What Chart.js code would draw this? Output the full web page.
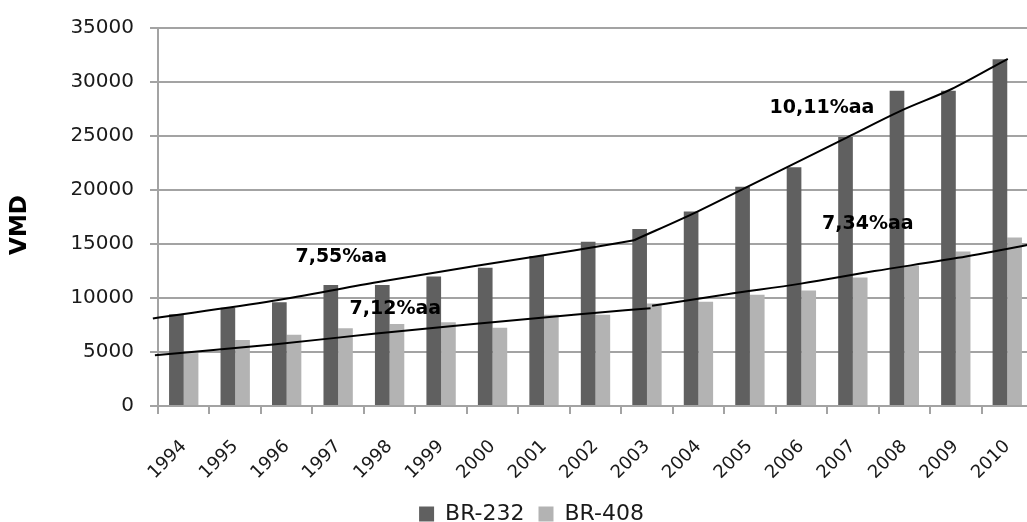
<!DOCTYPE html>
<html>
<head>
<meta charset="utf-8">
<script src="https://cdn.jsdelivr.net/npm/chart.js@4/dist/chart.umd.min.js"></script>
<style>
    html, body { margin: 0; padding: 0; background: #fff; overflow: hidden; }
    .chart-container { width: 1027px; height: 522px; overflow: hidden; position: relative; }
</style>
</head>
<body>
<div class="chart-container">
    <canvas id="vmdChart" width="1063" height="535"></canvas>
</div>
<script>
// categories
const years = ["1994", "1995", "1996", "1997", "1998", "1999", "2000", "2001", "2002",
    "2003", "2004", "2005", "2006", "2007", "2008", "2009", "2010"];

// series values
const br232 = [8500, 9100, 9600, 11200, 11200, 12000, 12800, 13900, 15200,
    16400, 18000, 20300, 22100, 24900, 29200, 29200, 32100];
const br408 = [4900, 6100, 6600, 7200, 7600, 7750, 7250, 8450, 8450,
    9500, 9650, 10300, 10700, 11900, 13000, 14300, 15600];

// y axis ticks
const yTicks = [0, 5000, 10000, 15000, 20000, 25000, 30000, 35000];

// trend lines (year position, value)
const trend232aYears = [1993.4, 1995.74, 1997.69, 1999.63, 2001.58, 2002.75];
const trend232aVals = [8110, 9740, 11420, 12950, 14390, 15350];
const trend232bYears = [2002.75, 2003.98, 2004.89, 2006.9, 2007.94, 2008.91, 2010.01];
const trend232bVals = [15350, 18000, 20150, 24900, 27350, 29330, 32150];
const trend408aYears = [1993.44, 1995.74, 1997.69, 1999.63, 2001.58, 2003.07];
const trend408aVals = [4690, 5700, 6680, 7590, 8450, 9060];
const trend408bYears = [2003.1, 2004.56, 2005.99, 2007.42, 2009.04, 2010.5];
const trend408bVals = [9280, 10350, 11330, 12490, 13720, 15000];

// growth rate labels
const rateTexts = ["7,55%aa", "7,12%aa", "10,11%aa", "7,34%aa"];
const rateYears = [1997.06, 1998.11, 2006.4, 2007.29];
const rateVals = [13780, 9000, 27560, 16860];

const FONT = "'DejaVu Sans', 'Liberation Sans', sans-serif";
const GRID = "#a3a3a3";

const toPoints = (xs, ys) => xs.map((x, i) => ({ x: +x, y: ys[i] }));

const trendLine = (xs, ys) => ({
    type: "line",
    data: toPoints(xs, ys),
    borderColor: "#000",
    borderWidth: 2,
    pointRadius: 0,
    cubicInterpolationMode: "monotone",
    clip: false,
    order: 0,
});

const rateLabels = {
    id: "rateLabels",
    afterDatasetsDraw(chart) {
        const ctx = chart.ctx;
        const xs = chart.scales.x;
        const ys = chart.scales.y;
        ctx.save();
        ctx.font = "bold 19px " + FONT;
        ctx.fillStyle = "#000";
        ctx.textAlign = "center";
        ctx.textBaseline = "middle";
        rateTexts.forEach((t, i) => {
            ctx.fillText(t, xs.getPixelForValue(rateYears[i]), ys.getPixelForValue(rateVals[i]));
        });
        ctx.restore();
    },
};

// the original legend sits centred on the whole picture, not on the plot
const legendShift = {
    id: "legendShift",
    afterLayout(chart) {
        chart.legend.left += 15;
        chart.legend.right += 15;
    },
};

const ctx = document.getElementById("vmdChart").getContext("2d");

new Chart(ctx, {
    type: "bar",
    data: {
        datasets: [
            {
                label: "BR-232",
                data: toPoints(years, br232),
                backgroundColor: "#606060",
                categoryPercentage: 0.57,
                barPercentage: 1,
                order: 1,
            },
            {
                label: "BR-408",
                data: toPoints(years, br408),
                backgroundColor: "#b3b3b3",
                categoryPercentage: 0.57,
                barPercentage: 1,
                order: 1,
            },
            trendLine(trend232aYears, trend232aVals),
            trendLine(trend232bYears, trend232bVals),
            trendLine(trend408aYears, trend408aVals),
            trendLine(trend408bYears, trend408bVals),
        ],
    },
    options: {
        responsive: false,
        animation: false,
        layout: {
            padding: { top: 25, right: 30, left: 0, bottom: 0 },
        },
        scales: {
            x: {
                type: "linear",
                offset: false,
                min: 1993.5,
                max: 2010.5,
                afterBuildTicks(scale) { scale.ticks = years.map(y => ({ value: +y })); },
                grid: {
                    offset: true,
                    drawOnChartArea: false,
                    color: GRID,
                    lineWidth: 2,
                    tickLength: 8,
                },
                border: { color: GRID, width: 2 },
                ticks: {
                    callback: (v, i) => years[i],
                    color: "#1a1a1a",
                    font: { family: FONT, size: 18 },
                    minRotation: 45,
                    maxRotation: 45,
                    padding: 22,
                },
                afterFit(scale) { scale.height = 83; },
            },
            y: {
                min: 0,
                max: 35000,
                afterBuildTicks(scale) { scale.ticks = yTicks.map(v => ({ value: v })); },
                grid: { color: GRID, lineWidth: 2, tickLength: 8 },
                border: { color: GRID, width: 2 },
                ticks: {
                    callback: (v) => String(v),
                    color: "#1a1a1a",
                    font: { family: FONT, size: 20 },
                    padding: 16,
                },
                title: {
                    display: true,
                    text: "VMD  ",
                    color: "#000",
                    font: { family: FONT, size: 23, weight: "bold" },
                    padding: { top: 6, bottom: 0 },
                },
                afterFit(scale) { scale.width = 158; },
            },
        },
        plugins: {
            legend: {
                position: "bottom",
                labels: {
                    filter: (item) => item.datasetIndex < 2,
                    boxWidth: 15,
                    boxHeight: 15,
                    padding: 14,
                    color: "#1a1a1a",
                    font: { family: FONT, size: 22 },
                },
            },
            tooltip: { enabled: false },
        },
    },
    plugins: [rateLabels, legendShift],
});
</script>
</body>
</html>
